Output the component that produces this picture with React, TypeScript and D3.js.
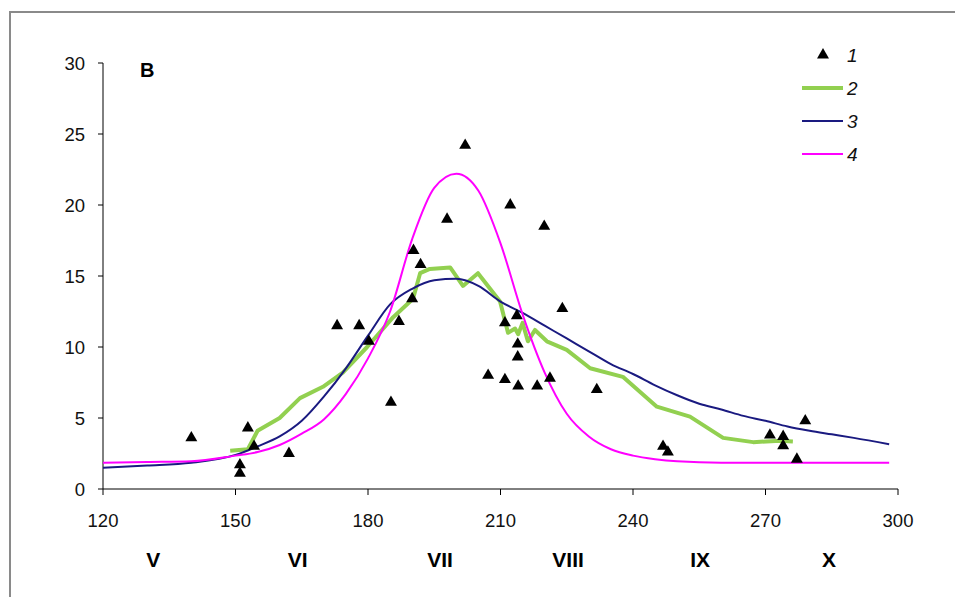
import React from 'react'
import * as d3 from 'd3'

// observed points (series 1)
const obsX = [140, 152.8, 154.2, 151, 151, 162.1, 173, 178, 180.2, 185.2, 187, 190, 190.3, 191.9, 197.9, 202, 212.2, 219.9, 224,
  211, 213.7, 213.9, 213.9, 207.2, 211, 214, 218.3, 221.2, 231.8, 246.8, 247.9, 271, 274, 274, 279, 277.1]
const obsY = [3.6, 4.3, 3.0, 1.7, 1.1, 2.5, 11.5, 11.5, 10.4, 6.1, 11.8, 13.4, 16.8, 15.8, 19.0, 24.2, 20.0, 18.5, 12.7,
  11.7, 12.2, 10.2, 9.3, 8.0, 7.7, 7.25, 7.25, 7.8, 7.0, 3.0, 2.6, 3.8, 3.7, 3.05, 4.8, 2.1]

// series 2 (green, running mean)
const s2X = [148.8, 152.8, 155, 160, 164.6, 169.8, 174.3, 179.8, 185.7, 190.2, 191.8, 194, 198.6, 201.5, 204.9, 209.9, 211.7,
  213.3, 214, 215, 216.2, 217.8, 220.5, 225, 230.3, 237.7, 245.4, 252.9, 260.4, 267.2, 273.3, 276.2]
const s2Y = [2.7, 2.8, 4.1, 5.0, 6.4, 7.2, 8.2, 10.0, 12.1, 13.4, 15.2, 15.5, 15.6, 14.3, 15.2, 13.2, 11.0,
  11.3, 10.9, 11.7, 10.4, 11.2, 10.4, 9.8, 8.5, 7.9, 5.8, 5.1, 3.6, 3.3, 3.4, 3.35]

// series 3 (navy)
const s3X = [120, 130, 140, 150, 155, 160, 165, 170, 175, 180, 185, 190, 195, 200, 205, 210, 215, 220, 225, 230, 235, 240,
  245, 250, 255, 260, 265, 270, 275, 280, 285, 290, 298]
const s3Y = [1.5, 1.65, 1.85, 2.4, 3.0, 3.7, 4.8, 6.5, 8.5, 10.8, 13.0, 14.1, 14.7, 14.8, 14.3, 13.2, 12.4, 11.5, 10.6, 9.7, 8.8, 8.1,
  7.3, 6.6, 6.0, 5.6, 5.15, 4.8, 4.4, 4.1, 3.85, 3.6, 3.15]

// series 4 (magenta)
const s4X = [120, 130, 140, 150, 155, 160, 165, 170, 175, 180, 185, 190, 195, 200, 205, 210, 215, 220, 225, 230, 235, 240,
  245, 250, 260, 280, 298]
const s4Y = [1.85, 1.9, 1.95, 2.35, 2.6, 3.1, 3.9, 4.9, 6.7, 9.2, 12.5, 17.6, 21.2, 22.2, 21.0, 17.3, 12.3, 8.2, 5.3, 3.7, 2.8, 2.35,
  2.1, 1.95, 1.85, 1.85, 1.85]

const xTicks = [120, 150, 180, 210, 240, 270, 300]
const yTicks = [0, 5, 10, 15, 20, 25, 30]
const months = ['V', 'VI', 'VII', 'VIII', 'IX', 'X']
const monthX = [131.4, 164.1, 196.3, 225.3, 255.2, 284.4]

const legendItems = [
  { key: '1', kind: 'tri', color: '#000' },
  { key: '2', kind: 'line', color: '#92D050', w: 4 },
  { key: '3', kind: 'line', color: '#1A1A80', w: 2 },
  { key: '4', kind: 'line', color: '#FF00FF', w: 2 },
]

const W = 955
const H = 597
const pad = { l: 103, r: 57, t: 63, b: 108 }
const font = 'Liberation Sans, Arial, sans-serif'

export default function App() {
  const x = d3.scaleLinear().domain([120, 300]).range([pad.l, W - pad.r])
  const y = d3.scaleLinear().domain([0, 30]).range([H - pad.b, pad.t])

  const zip = (xs: number[], ys: number[]) => xs.map((v, i) => [v, ys[i]] as [number, number])
  const straight = d3.line<[number, number]>().x(d => x(d[0])).y(d => y(d[1]))
  const smooth = d3.line<[number, number]>().x(d => x(d[0])).y(d => y(d[1])).curve(d3.curveMonotoneX)
  const tri = d3.symbol().type(d3.symbolTriangle).size(62)()

  const y0 = y(0)

  return (
    <svg width={W} height={H} style={{ position: 'absolute', left: 0, top: 0, background: '#fff' }} fontFamily={font}>
      <rect x={10} y={12} width={980} height={620} fill="#fff" stroke="#8a8a8a" strokeWidth={2} />

      {/* axes */}
      <line x1={x(120)} x2={x(120)} y1={y(30)} y2={y0} stroke="#000" strokeWidth={1} />
      <line x1={x(120)} x2={x(300)} y1={y0} y2={y0} stroke="#000" strokeWidth={1} />
      {yTicks.map(t => (
        <g key={'y' + t}>
          <line x1={x(120) - 5} x2={x(120)} y1={y(t)} y2={y(t)} stroke="#000" />
          <text x={x(120) - 18} y={y(t) + 7} textAnchor="end" fontSize={18.5} fill="#111">{t}</text>
        </g>
      ))}
      {xTicks.map(t => (
        <g key={'x' + t}>
          <line x1={x(t)} x2={x(t)} y1={y0} y2={y0 + 6} stroke="#000" />
          <text x={x(t)} y={y0 + 38} textAnchor="middle" fontSize={18.5} fill="#111">{t}</text>
        </g>
      ))}
      {months.map((m, i) => (
        <text key={m} x={x(monthX[i])} y={y0 + 78} textAnchor="middle" fontSize={21} fontWeight="bold" fill="#000">{m}</text>
      ))}
      <text x={140} y={77} fontSize={20} fontWeight="bold" fill="#000">B</text>

      {/* lines */}
      <path d={straight(zip(s2X, s2Y)) || ''} fill="none" stroke="#92D050" strokeWidth={4} strokeLinejoin="round" />
      <path d={smooth(zip(s3X, s3Y)) || ''} fill="none" stroke="#1A1A80" strokeWidth={2} />
      <path d={smooth(zip(s4X, s4Y)) || ''} fill="none" stroke="#FF00FF" strokeWidth={2} />

      {/* points */}
      {obsX.map((v, i) => (
        <path key={'p' + i} d={tri || ''} transform={`translate(${x(v)},${y(obsY[i])})`} fill="#000" />
      ))}

      {/* legend */}
      {legendItems.map((it, i) => {
        const ly = 55 + i * 33
        return (
          <g key={it.key}>
            {it.kind === 'tri'
              ? <path d={tri || ''} transform={`translate(823,${ly})`} fill="#000" />
              : <line x1={802} x2={843} y1={ly} y2={ly} stroke={it.color} strokeWidth={it.w} />}
            <text x={847} y={ly + 7} fontSize={19} fontStyle="italic" fill="#111">{it.key}</text>
          </g>
        )
      })}
    </svg>
  )
}
